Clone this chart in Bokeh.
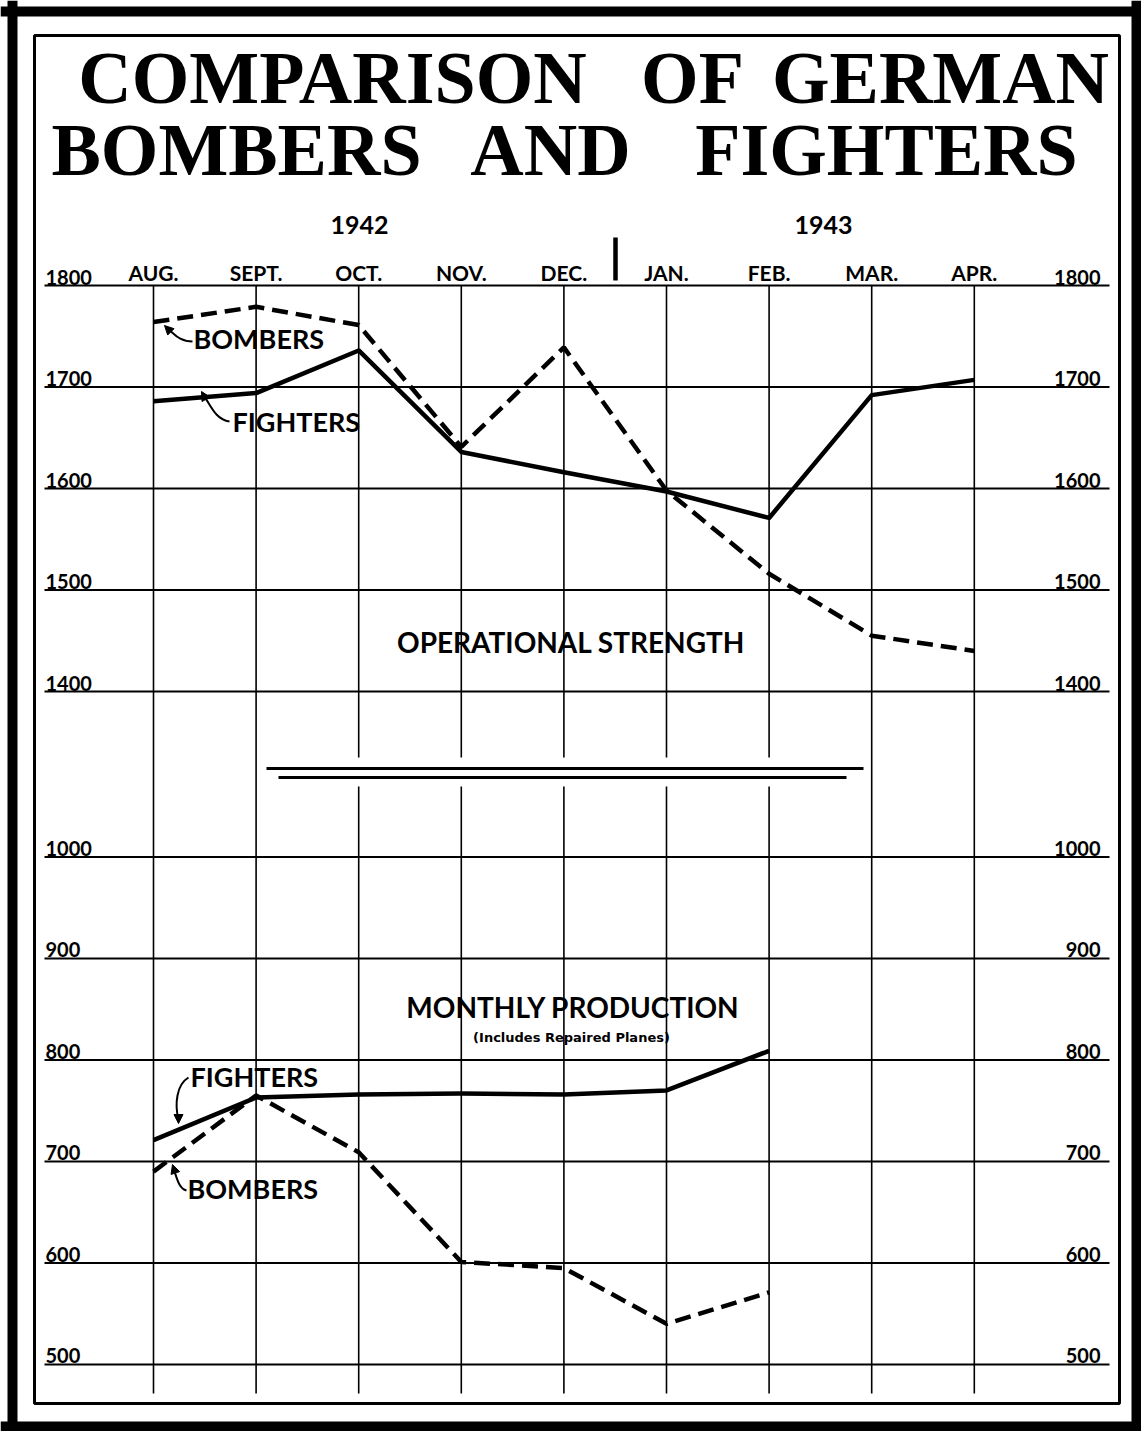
from bokeh.plotting import figure
from bokeh.models import Range1d, Arrow, NormalHead
from bokeh.core.properties import value
from bokeh.embed import file_html
from bokeh.resources import INLINE

# ---------------- data ----------------
months = ["AUG.", "SEPT.", "OCT.", "NOV.", "DEC.", "JAN.", "FEB.", "MAR.", "APR."]
years = ["1942", "1943"]
strength_ticks = [1800, 1700, 1600, 1500, 1400]
production_ticks = [1000, 900, 800, 700, 600, 500]

strength_bombers = [1764, 1779, 1761, 1641, 1739, 1598, 1516, 1455, 1440]
strength_fighters = [1686, 1694, 1736, 1636, 1616, 1597, 1571, 1692, 1707]
production_fighters = [721, 763, 766, 767, 766, 770, 809]
production_bombers = [690, 765, 709, 601, 595, 540, 571]

# production section sits below a broken axis: shift its values up
BREAK_OFFSET = 237

# ---------------- layout calibration ----------------
W, H = 1141, 1431
X0, DX = 153.0, 102.6      # px of first month, px per month
KY = 1.015                 # px per unit


def rx(px):
    return (px - X0) / DX


def ry(py):
    return 1800 - (py - 285) / KY


p = figure(width=W, height=H, output_backend="svg", toolbar_location=None,
           x_range=Range1d(rx(0), rx(W)), y_range=Range1d(ry(H), ry(0)),
           min_border=0, min_border_left=0, min_border_right=0,
           min_border_top=0, min_border_bottom=0)
p.xaxis.visible = False
p.yaxis.visible = False
p.grid.visible = False
p.outline_line_color = None
p.background_fill_color = "white"
p.border_fill_color = "white"

idx = list(range(len(months)))
prod_idx = idx[:len(production_fighters)]

# ---------------- frames ----------------
p.quad(left=[rx(7), rx(0), rx(0), rx(1131)], right=[rx(17), rx(1141), rx(1141), rx(1141)],
       bottom=[ry(1431), ry(16), ry(1431), ry(1431)], top=[ry(0), ry(6), ry(1421), ry(0)],
       fill_color="black", line_color=None)
p.quad(left=[rx(34)], right=[rx(1119)], top=[ry(35)], bottom=[ry(1403)],
       fill_color=None, line_color="black", line_width=3)

# ---------------- grid ----------------
tick_y = strength_ticks + [t + BREAK_OFFSET for t in production_ticks]
tick_lbl = [str(t) for t in strength_ticks + production_ticks]
p.segment(x0=[rx(44)] * len(tick_y), x1=[rx(1109)] * len(tick_y), y0=tick_y, y1=tick_y,
          line_color="black", line_width=2)
p.segment(x0=idx, x1=idx, y0=[ry(285)] * len(idx), y1=[ry(1393)] * len(idx),
          line_color="black", line_width=1.6)

# axis break: white strip + double line
p.quad(left=[rx(266)], right=[rx(863)], top=[ry(757)], bottom=[ry(786)],
       fill_color="white", line_color=None)
p.segment(x0=[rx(266), rx(278)], x1=[rx(863), rx(846)], y0=[ry(768), ry(777)],
          y1=[ry(768), ry(777)], line_color="black", line_width=3)

# tick labels (left and right, sitting on the lines)
lab_y = [t + 8.5 / KY for t in tick_y]
common = dict(text_font=value("Lato"), text_font_style="bold", text_baseline="middle",
              text_color="black")
p.text(x=[rx(45)] * len(tick_y), y=lab_y, text=tick_lbl, text_font_size="20px",
       text_align="left", **common)
p.text(x=[rx(1100)] * len(tick_y), y=lab_y, text=tick_lbl, text_font_size="20px",
       text_align="right", **common)

# month labels and years
p.text(x=idx, y=[ry(272)] * len(idx), text=months, text_font_size="21px",
       text_align="center", **common)
p.text(x=[rx(359), rx(823)], y=[ry(224)] * 2, text=years, text_font_size="25px",
       text_align="center", **common)
p.segment(x0=[rx(615)], x1=[rx(615)], y0=[ry(237)], y1=[ry(280)],
          line_color="black", line_width=4.5)

# ---------------- title ----------------
title_words = ["COMPARISON", "OF", "GERMAN", "BOMBERS", "AND", "FIGHTERS"]
p.text(x=[rx(332), rx(692), rx(940), rx(236), rx(550), rx(886)],
       y=[ry(77.5)] * 3 + [ry(149)] * 3, text=title_words,
       text_font=value("Liberation Serif"), text_font_size="74px",
       text_font_style="bold", text_align="center", text_baseline="middle",
       text_color="black")

# ---------------- data lines ----------------
p.line(idx, strength_fighters, line_color="black", line_width=4.5, line_join="round")
p.line(idx, strength_bombers, line_color="black", line_width=4.5, line_dash="16 8")
p.line(prod_idx, [v + BREAK_OFFSET for v in production_fighters], line_color="black",
       line_width=4.5, line_join="round")
p.line(prod_idx, [v + BREAK_OFFSET for v in production_bombers], line_color="black",
       line_width=4.5, line_dash="16 8")

# ---------------- section labels ----------------
p.text(x=[rx(574), rx(576)], y=[ry(641), ry(1006.5)],
       text=["OPERATIONAL  STRENGTH", "MONTHLY  PRODUCTION"], text_font_size="28px",
       text_align="center", **common)
p.text(x=[rx(571)], y=[ry(1037)], text=["(Includes Repaired Planes)"],
       text_font=value("DejaVu Sans"), text_font_style="bold", text_font_size="13px",
       text_align="center", text_baseline="middle", text_color="black")

# series annotations
p.text(x=[rx(193), rx(232), rx(190), rx(187)], y=[ry(337.5), ry(421), ry(1076), ry(1187.5)],
       text=["BOMBERS", "FIGHTERS", "FIGHTERS", "BOMBERS"], text_font_size="27px",
       text_align="left", **common)

curves = [  # tail, ctrl0, ctrl1, tip (px)
    ((192, 341), (178, 341), (174, 333), (167, 328)),
    ((229, 421), (214, 419), (209, 402), (203, 395)),
    ((188, 1077), (176, 1084), (174, 1104), (178, 1119)),
    ((186, 1190), (178, 1188), (176, 1176), (173, 1168)),
]
p.bezier(x0=[rx(c[0][0]) for c in curves], y0=[ry(c[0][1]) for c in curves],
         x1=[rx(c[3][0]) for c in curves], y1=[ry(c[3][1]) for c in curves],
         cx0=[rx(c[1][0]) for c in curves], cy0=[ry(c[1][1]) for c in curves],
         cx1=[rx(c[2][0]) for c in curves], cy1=[ry(c[2][1]) for c in curves],
         line_color="black", line_width=2)
heads = [((169, 330), (164, 325)), ((205, 398), (201, 391)),
         ((178, 1116), (178, 1123)), ((174, 1170), (172, 1164))]
for (sx, sy), (ex, ey) in heads:
    p.add_layout(Arrow(end=NormalHead(size=9, fill_color="black", line_color="black"),
                       line_width=2, x_start=rx(sx), y_start=ry(sy),
                       x_end=rx(ex), y_end=ry(ey)))

open("out.html", "w").write(file_html(p, INLINE))
